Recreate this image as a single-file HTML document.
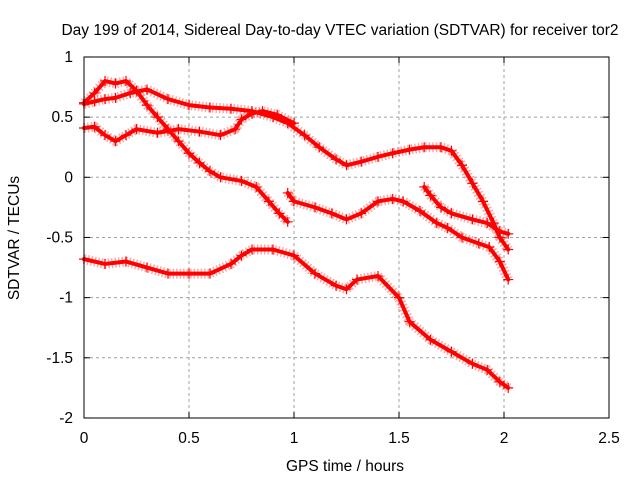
<!DOCTYPE html>
<html><head><meta charset="utf-8"><style>
body{margin:0;background:#fff}
text{font-family:"Liberation Sans",sans-serif;font-size:15.5px;fill:#000}
</style></head><body>
<svg id="chart" width="640" height="480" xmlns="http://www.w3.org/2000/svg">
<text x="340" y="35" text-anchor="middle">Day 199 of 2014, Sidereal Day-to-day VTEC variation (SDTVAR) for receiver tor2</text>
<text x="345" y="471" text-anchor="middle">GPS time / hours</text>
<text transform="translate(19,238) rotate(-90)" text-anchor="middle">SDTVAR / TECUs</text>
<g id="grid"></g><g id="axes"></g><g id="series"></g>
<rect x="84" y="57" width="525" height="361" fill="none" stroke="#000" stroke-width="1"/>
</svg>
<script>
const xTicks=[0,0.5,1,1.5,2,2.5];
const xTickLabels=["0","0.5","1","1.5","2","2.5"];
const yTicks=[1,0.5,0,-0.5,-1,-1.5,-2];
const yTickLabels=["1","0.5","0","-0.5","-1","-1.5","-2"];
const trackAHours=[0,0.05,0.1,0.15,0.22,0.3,0.4,0.5,0.6,0.7,0.8,0.9,0.97,1.05,1.12,1.2,1.25,1.32,1.4,1.47,1.55,1.62,1.7,1.75,1.8,1.85,1.9,1.95,1.98,2.02];
const trackAValues=[0.61,0.63,0.65,0.66,0.7,0.73,0.65,0.6,0.58,0.57,0.55,0.5,0.45,0.35,0.25,0.15,0.1,0.13,0.17,0.2,0.23,0.25,0.25,0.22,0.1,-0.05,-0.2,-0.38,-0.5,-0.6];
const trackBHours=[0,0.05,0.1,0.15,0.2,0.25,0.35,0.45,0.55,0.65,0.72,0.75,0.8,0.85,0.92,1.0];
const trackBValues=[0.41,0.42,0.35,0.3,0.35,0.4,0.37,0.4,0.38,0.35,0.4,0.48,0.53,0.55,0.52,0.45];
const trackCHours=[0,0.05,0.1,0.15,0.2,0.25,0.3,0.35,0.4,0.45,0.5,0.55,0.6,0.65,0.75,0.82,0.88,0.93,0.97];
const trackCValues=[0.62,0.7,0.8,0.78,0.8,0.72,0.6,0.5,0.4,0.3,0.2,0.12,0.05,0,-0.03,-0.08,-0.2,-0.3,-0.37];
const trackDHours=[0.97,1.0,1.1,1.18,1.25,1.32,1.4,1.47,1.52,1.6,1.68,1.73,1.8,1.88,1.93,1.98,2.02];
const trackDValues=[-0.13,-0.2,-0.25,-0.3,-0.35,-0.3,-0.2,-0.18,-0.2,-0.28,-0.38,-0.42,-0.5,-0.55,-0.58,-0.7,-0.85];
const trackEHours=[1.62,1.65,1.7,1.75,1.85,1.92,1.98,2.02];
const trackEValues=[-0.08,-0.15,-0.25,-0.3,-0.35,-0.38,-0.45,-0.47];
const trackFHours=[0,0.1,0.2,0.3,0.4,0.5,0.6,0.7,0.75,0.8,0.9,1.0,1.1,1.2,1.25,1.3,1.4,1.5,1.55,1.65,1.75,1.85,1.92,1.98,2.02];
const trackFValues=[-0.68,-0.72,-0.7,-0.75,-0.8,-0.8,-0.8,-0.72,-0.65,-0.6,-0.6,-0.65,-0.8,-0.9,-0.93,-0.85,-0.82,-1.0,-1.2,-1.35,-1.45,-1.55,-1.6,-1.7,-1.75];

const NS="http://www.w3.org/2000/svg";
const X=h=>84+210*h, Y=v=>177.3-120.33*v;
function mk(tag,attrs,parent){const e=document.createElementNS(NS,tag);for(const k in attrs)e.setAttribute(k,attrs[k]);parent.appendChild(e);return e;}
const grid=document.getElementById('grid'),axes=document.getElementById('axes'),ser=document.getElementById('series');
xTicks.forEach((t,i)=>{
  if(i>0&&i<xTicks.length-1){const g=mk('line',{x1:X(t),x2:X(t),y1:57,y2:418,stroke:'#a0a0a0','stroke-dasharray':'3,3'},grid);
  
  }
  const l=mk('text',{x:X(t),y:443,'text-anchor':'middle'},axes);l.textContent=xTickLabels[i];
  
  
  mk('line',{x1:X(t),x2:X(t),y1:418,y2:412,stroke:'#000'},axes);
  mk('line',{x1:X(t),x2:X(t),y1:57,y2:63,stroke:'#000'},axes);
});
yTicks.forEach((t,i)=>{
  if(i>0&&i<yTicks.length-1){const g=mk('line',{x1:84,x2:609,y1:Y(t),y2:Y(t),stroke:'#a0a0a0','stroke-dasharray':'3,3'},grid);
  
  }
  const l=mk('text',{x:73,y:Y(t)+5,'text-anchor':'end'},axes);l.textContent=yTickLabels[i];
  
  
  mk('line',{x1:84,x2:90,y1:Y(t),y2:Y(t),stroke:'#000'},axes);
  mk('line',{x1:609,x2:603,y1:Y(t),y2:Y(t),stroke:'#000'},axes);
});
const tracks=[[trackAHours,trackAValues],[trackBHours,trackBValues],[trackCHours,trackCValues],[trackDHours,trackDValues],[trackEHours,trackEValues],[trackFHours,trackFValues]];
tracks.forEach(([hs,vs],ti)=>{
  const g=mk('g',{},ser);
  
  
  const pts=hs.map((h,i)=>X(h)+','+Y(vs[i])).join(' ');
  mk('polyline',{points:pts,fill:'none',stroke:'#ff0000','stroke-width':4,'stroke-linejoin':'round','stroke-linecap':'round'},g);
  mk('polyline',{points:pts,fill:'none',stroke:'#ff0000','stroke-width':10,'stroke-opacity':0.35,'stroke-linejoin':'round','stroke-dasharray':'1.5,2'},g);
  hs.forEach((h,i)=>{const x=X(h),y=Y(vs[i]);
    mk('path',{d:`M${x-5},${y}h10M${x},${y-5}v10`,stroke:'#ff0000','stroke-width':1.2},g);
  });
});
</script>
</body></html>
